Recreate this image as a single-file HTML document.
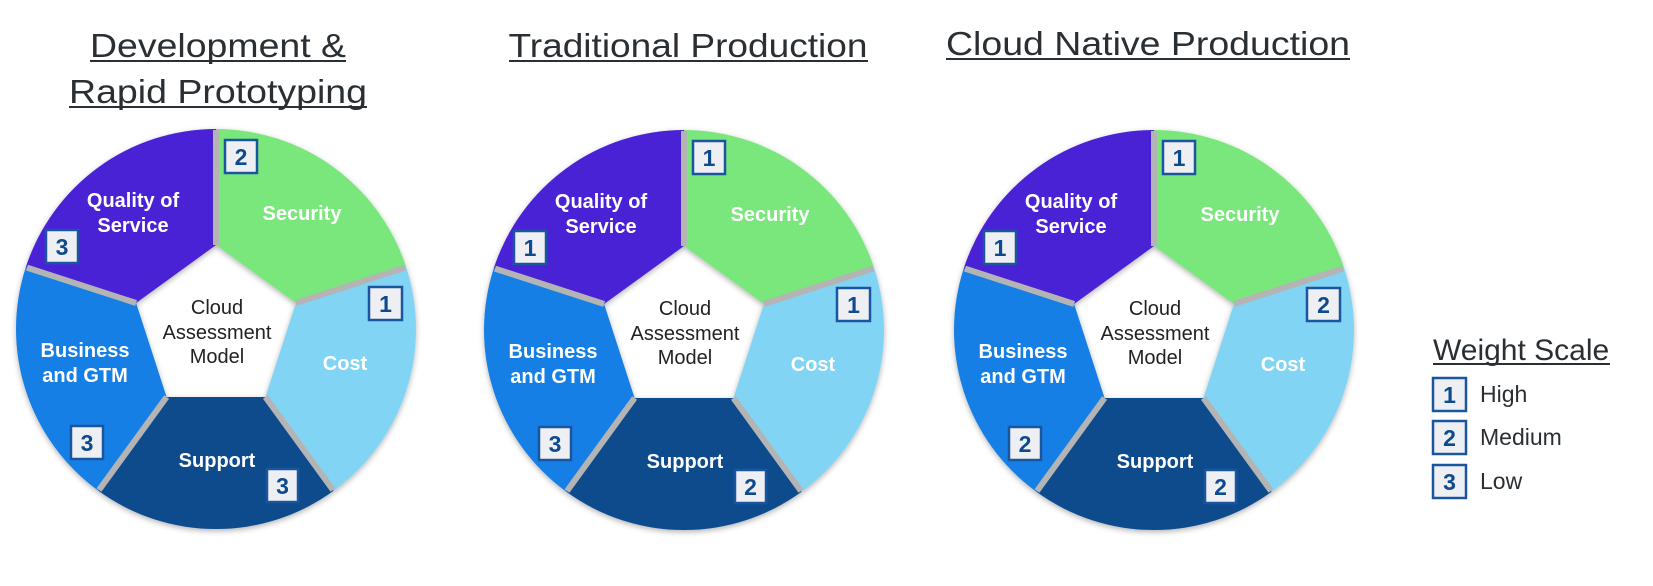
<!DOCTYPE html>
<html><head><meta charset="utf-8"><style>
html,body{margin:0;padding:0;background:#fff;}
svg{display:block;}
</style></head><body>
<svg width="1653" height="586" viewBox="0 0 1653 586" xmlns="http://www.w3.org/2000/svg" font-family="Liberation Sans, Arial, sans-serif">
<defs>
<filter id="sh" x="-10%" y="-10%" width="120%" height="120%">
<feDropShadow dx="0" dy="2" stdDeviation="3" flood-color="#000" flood-opacity="0.3"/>
</filter>
<g id="wheel">
 <g filter="url(#sh)">
  <path d="M0,-84 L0,-200 A200,200 0 0 1 190.2,-61.8 L79.9,-26 Z" fill="#7ae77b"/>
  <path d="M79.9,-26 L190.2,-61.8 A200,200 0 0 1 117.6,161.8 L49.4,68 Z" fill="#82d4f4"/>
  <path d="M49.4,68 L117.6,161.8 A200,200 0 0 1 -117.6,161.8 L-49.4,68 Z" fill="#0b4c8d"/>
  <path d="M-49.4,68 L-117.6,161.8 A200,200 0 0 1 -190.2,-61.8 L-79.9,-26 Z" fill="#127fe6"/>
  <path d="M-79.9,-26 L-190.2,-61.8 A200,200 0 0 1 0,-200 L0,-84 Z" fill="#4a22d6"/>
 </g>
 <g stroke="#b4b4b4" stroke-width="6">
  <line x1="0" y1="-84" x2="0" y2="-199"/>
  <line x1="79.9" y1="-26" x2="189" y2="-61.4"/>
  <line x1="49.4" y1="68" x2="117" y2="161"/>
  <line x1="-49.4" y1="68" x2="-117" y2="161"/>
  <line x1="-79.9" y1="-26" x2="-189" y2="-61.4"/>
 </g>
 <g fill="#fff" font-weight="bold" font-size="20" text-anchor="middle">
  <text x="-83" y="-122">Quality of</text>
  <text x="-83" y="-97">Service</text>
  <text x="86" y="-109">Security</text>
  <text x="129" y="41">Cost</text>
  <text x="1" y="138">Support</text>
  <text x="-131" y="28">Business</text>
  <text x="-131" y="53">and GTM</text>
 </g>
 <g fill="#222" font-size="20" text-anchor="middle">
  <text x="1" y="-15">Cloud</text>
  <text x="1" y="10">Assessment</text>
  <text x="1" y="34">Model</text>
 </g>
</g>
</defs>
<g fill="#2a2f33" font-size="33" text-anchor="middle">
 <text x="218" y="57" textLength="256" lengthAdjust="spacingAndGlyphs">Development &amp;</text>
 <text x="218" y="103" textLength="298" lengthAdjust="spacingAndGlyphs">Rapid Prototyping</text>
 <text x="688" y="57" textLength="359" lengthAdjust="spacingAndGlyphs">Traditional Production</text>
 <text x="1148" y="55" textLength="404" lengthAdjust="spacingAndGlyphs">Cloud Native Production</text>
 <text x="1433" y="360" text-anchor="start" font-size="30">Weight Scale</text>
</g>
<g stroke="#2a2f33" stroke-width="2">
 <line x1="90" y1="61" x2="346" y2="61"/>
 <line x1="69" y1="107" x2="367" y2="107"/>
 <line x1="509" y1="61" x2="868" y2="61"/>
 <line x1="946" y1="59" x2="1350" y2="59"/>
 <line x1="1433" y1="364" x2="1610" y2="364"/>
</g>
<use href="#wheel" transform="translate(216,329)"/>
<use href="#wheel" transform="translate(684,330)"/>
<use href="#wheel" transform="translate(1154,330)"/>
<g stroke="#1a56a0" stroke-width="2.5" fill="#eeeff2">
 <rect x="225" y="140" width="32" height="33"/>
 <rect x="46" y="230" width="32" height="33"/>
 <rect x="369" y="287" width="33" height="33"/>
 <rect x="71" y="426" width="32" height="33"/>
 <rect x="267" y="469" width="31" height="33"/>
 <rect x="693" y="141" width="32" height="33"/>
 <rect x="514" y="231" width="32" height="33"/>
 <rect x="837" y="288" width="33" height="33"/>
 <rect x="539" y="427" width="32" height="33"/>
 <rect x="735" y="470" width="31" height="33"/>
 <rect x="1163" y="141" width="32" height="33"/>
 <rect x="984" y="231" width="32" height="33"/>
 <rect x="1307" y="288" width="33" height="33"/>
 <rect x="1009" y="427" width="32" height="33"/>
 <rect x="1205" y="470" width="31" height="33"/>
 <rect x="1433" y="378" width="33" height="33"/>
 <rect x="1433" y="421" width="33" height="33"/>
 <rect x="1433" y="465" width="33" height="33"/>
</g>
<g fill="#0e4a8e" font-weight="bold" font-size="23" text-anchor="middle">
 <text x="241" y="165">2</text><text x="62" y="255">3</text><text x="385.5" y="312">1</text><text x="87" y="451">3</text><text x="282.5" y="494">3</text>
 <text x="709" y="166">1</text><text x="530" y="256">1</text><text x="853.5" y="313">1</text><text x="555" y="452">3</text><text x="750.5" y="495">2</text>
 <text x="1179" y="166">1</text><text x="1000" y="256">1</text><text x="1323.5" y="313">2</text><text x="1025" y="452">2</text><text x="1220.5" y="495">2</text>
 <text x="1449.5" y="403">1</text><text x="1449.5" y="446">2</text><text x="1449.5" y="490">3</text>
</g>
<g fill="#2a2f33" font-size="23">
 <text x="1480" y="402">High</text>
 <text x="1480" y="445">Medium</text>
 <text x="1480" y="489">Low</text>
</g>
</svg>
</body></html>
